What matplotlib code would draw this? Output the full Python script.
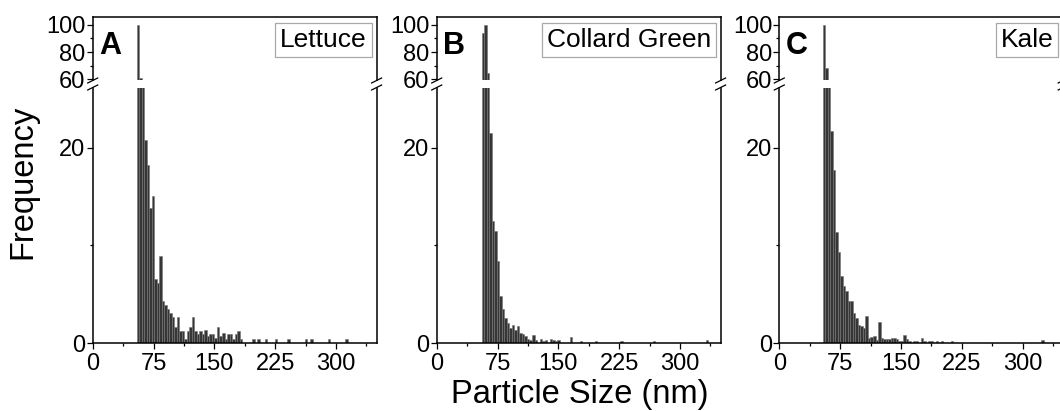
import matplotlib
matplotlib.use("Agg")
import matplotlib.pyplot as plt
from matplotlib.lines import Line2D
from matplotlib.ticker import MultipleLocator, FixedLocator
import numpy as np

plt.rcParams['font.family'] = ['Liberation Sans', 'DejaVu Sans']

# ---------------- data ----------------
panel_letters = ["A", "B", "C"]
panel_names = ["Lettuce", "Collard Green", "Kale"]
bin_width = 3.1          # nm
bin_starts = [54.0, 55.5, 53.5]   # first bin edge (nm) per panel

freq_A = [100, 61, 40, 20.8, 18.2, 13.8, 15.1, 6.6, 6.2, 8.9,
          4.3, 3.9, 3.5, 3.1, 2.7, 1.7, 2.7, 1.3, 1.3, 0.4,
          1.3, 1.7, 2.7, 1.3, 0.9, 1.3, 0.9, 1.4, 0.7, 1.0,
          1.0, 0.5, 1.7, 0.7, 1.1, 0.4, 0.9, 0.9, 0.4, 0.9,
          1.3, 0.4, 0, 0, 0, 0, 0.4, 0, 0.4, 0,
          0, 0.4, 0, 0, 0, 0.4, 0, 0, 0, 0,
          0.4, 0, 0, 0, 0, 0, 0, 0.4, 0, 0.4,
          0, 0, 0, 0, 0, 0, 0.4, 0, 0, 0,
          0, 0, 0, 0.4]

freq_B = [94, 100, 64.6, 21.5, 12.5, 11.5, 8.4, 4.8, 3.5, 2.6,
          2.1, 1.6, 1.9, 1.4, 1.8, 1.1, 0.9, 0.7, 0.4, 0.3,
          0.8, 0.3, 0, 0.4, 0.2, 0.3, 0, 0.4, 0.3, 0.2,
          0.3, 0, 0, 0, 0, 0.6, 0, 0, 0, 0.2,
          0, 0, 0, 0, 0, 0.2, 0, 0, 0, 0,
          0, 0, 0, 0, 0, 0.2, 0, 0, 0, 0,
          0, 0, 0, 0, 0, 0, 0, 0, 0.2, 0,
          0, 0, 0, 0, 0, 0, 0, 0, 0, 0,
          0, 0, 0, 0, 0, 0, 0, 0, 0, 0.3]

freq_C = [100, 68, 40, 21.7, 17.7, 11.4, 9.3, 6.9, 5.9, 5.3,
          4.3, 4.3, 3.1, 2.6, 1.9, 1.8, 1.6, 2.8, 0.5, 0.6,
          0.7, 0.3, 2.2, 0.5, 0.4, 0.4, 0.45, 0.5, 0.5, 0.4,
          0.2, 0.2, 0.8, 0.4, 0.2, 0, 0.2, 0.2, 0, 0.5,
          0.2, 0, 0.2, 0.2, 0, 0.2, 0, 0.2, 0, 0,
          0, 0.2, 0, 0, 0, 0, 0, 0, 0, 0,
          0, 0, 0, 0, 0, 0, 0, 0, 0, 0,
          0, 0, 0, 0, 0, 0, 0, 0, 0, 0,
          0, 0, 0, 0, 0, 0, 0, 0.3]

freqs = [freq_A, freq_B, freq_C]

x_ticks = [0, 75, 150, 225, 300]
top_yticks = [60, 80, 100]
bottom_yticks = [0, 20]

# ---------------- layout (pixels) ----------------
W, H = 1060, 411
fig = plt.figure(figsize=(W / 100, H / 100), dpi=100)

panel_left = [92.7, 436.7, 779.3]
panel_w = 283.9
top_y0, top_y1 = 17.0, 80.0       # top section (pixels from top)
bot_y0, bot_y1 = 88.0, 343.3      # bottom section

def add_px_axes(x0, w, ytop, ybot):
    return fig.add_axes([x0 / W, 1 - ybot / H, w / W, (ybot - ytop) / H])

face = '#363636'
edge = '#767676'
lw_spine = 1.1
tick_kw = dict(direction='out', width=0.9, color='black')

for i in range(3):
    x0 = panel_left[i]
    ax_t = add_px_axes(x0, panel_w, top_y0, top_y1)
    ax_b = add_px_axes(x0, panel_w, bot_y0, bot_y1)
    vals = np.array(freqs[i], dtype=float)
    edges = bin_starts[i] + bin_width * np.arange(len(vals))
    keep = vals > 0
    for ax in (ax_t, ax_b):
        ax.bar(edges[keep], vals[keep], width=bin_width, align='edge',
               color=face, edgecolor=edge, linewidth=0.4)
        ax.set_xlim(0, 350)
        for s in ax.spines.values():
            s.set_linewidth(lw_spine)
    ax_t.set_ylim(59.3, 105.9)
    ax_b.set_ylim(0, 26.1)

    ax_t.spines['bottom'].set_visible(False)
    ax_b.spines['top'].set_visible(False)

    # top axis ticks
    ax_t.set_xticks([])
    ax_t.yaxis.set_major_locator(FixedLocator(top_yticks))
    ax_t.yaxis.set_minor_locator(FixedLocator([70, 90]))
    ax_t.tick_params(axis='y', which='major', length=4.3, labelsize=17, pad=0.8, **tick_kw)
    ax_t.tick_params(axis='y', which='minor', length=2.5, **tick_kw)

    # bottom axis ticks
    ax_b.xaxis.set_major_locator(FixedLocator(x_ticks))
    ax_b.xaxis.set_minor_locator(MultipleLocator(37.5))
    ax_b.yaxis.set_major_locator(FixedLocator(bottom_yticks))
    ax_b.yaxis.set_minor_locator(FixedLocator([10]))
    ax_b.tick_params(axis='x', which='major', length=4.2, labelsize=17, pad=2.5, **tick_kw)
    ax_b.tick_params(axis='x', which='minor', length=2.5, **tick_kw)
    ax_b.tick_params(axis='y', which='major', length=4.3, labelsize=17, pad=0.8, **tick_kw)
    ax_b.tick_params(axis='y', which='minor', length=2.5, **tick_kw)

    # panel letter
    ax_t.text(0.023, 0.42, panel_letters[i], transform=ax_t.transAxes,
              fontsize=22, fontweight='bold', ha='left', va='baseline')
    # name box
    ax_t.text(1 - 9.8 / panel_w, 1 - 10.8 / (top_y1 - top_y0), panel_names[i],
              transform=ax_t.transAxes, fontsize=19, ha='right', va='top',
              bbox=dict(boxstyle='square,pad=0.18', facecolor='white',
                        edgecolor='#a8a8a8', linewidth=0.9))

    # break marks on both spines
    for sx in (x0, x0 + panel_w):
        for yc in (top_y1 + 0.5, bot_y0 - 0.5):
            xs = [(sx - 5) / W, (sx + 5) / W]
            ys = [1 - (yc + 2.5) / H, 1 - (yc - 2.5) / H]
            fig.add_artist(Line2D(xs, ys, transform=fig.transFigure,
                                  color='black', linewidth=0.9))

fig.text(22.5 / W, 1 - 182 / H, "Frequency", rotation=90, fontsize=23.5,
         ha='center', va='center')
fig.text(580 / W, 7.7 / H, "Particle Size (nm)", fontsize=23.5,
         ha='center', va='baseline')

fig.savefig("out.png", dpi=100)
